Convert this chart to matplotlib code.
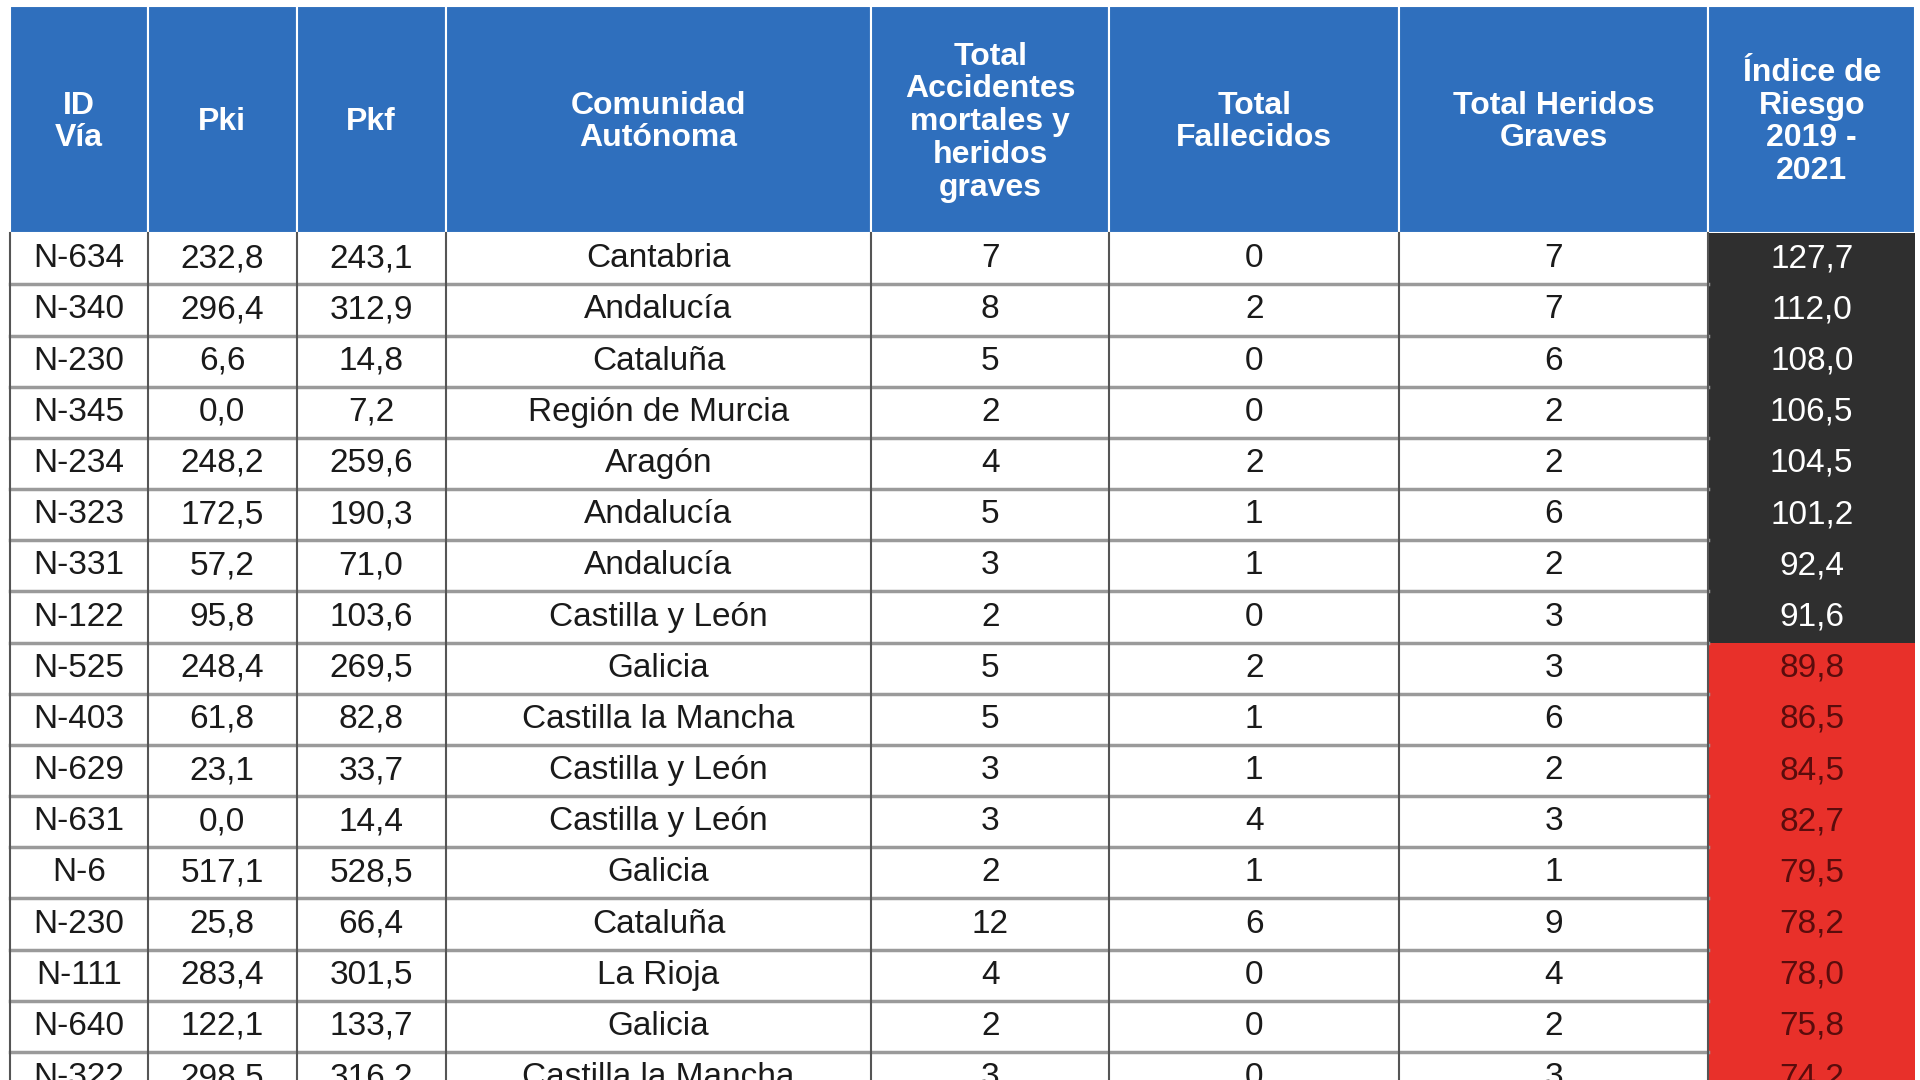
import matplotlib
matplotlib.use("Agg")
import matplotlib.pyplot as plt
from matplotlib.patches import Rectangle

headers = ["ID\nVía", "Pki", "Pkf", "Comunidad\nAutónoma",
           "Total\nAccidentes\nmortales y\nheridos\ngraves",
           "Total\nFallecidos", "Total Heridos\nGraves",
           "Índice de\nRiesgo\n2019 -\n2021"]
ids = ["N-634","N-340","N-230","N-345","N-234","N-323","N-331","N-122","N-525","N-403",
       "N-629","N-631","N-6","N-230","N-111","N-640","N-322"]
pki = ["232,8","296,4","6,6","0,0","248,2","172,5","57,2","95,8","248,4","61,8",
       "23,1","0,0","517,1","25,8","283,4","122,1","298,5"]
pkf = ["243,1","312,9","14,8","7,2","259,6","190,3","71,0","103,6","269,5","82,8",
       "33,7","14,4","528,5","66,4","301,5","133,7","316,2"]
comunidad = ["Cantabria","Andalucía","Cataluña","Región de Murcia","Aragón","Andalucía",
             "Andalucía","Castilla y León","Galicia","Castilla la Mancha","Castilla y León",
             "Castilla y León","Galicia","Cataluña","La Rioja","Galicia","Castilla la Mancha"]
accidentes = [7,8,5,2,4,5,3,2,5,5,3,3,2,12,4,2,3]
fallecidos = [0,2,0,0,2,1,1,0,2,1,1,4,1,6,0,0,0]
heridos = [7,7,6,2,2,6,2,3,3,6,2,3,1,9,4,2,3]
indice = [127.7,112.0,108.0,106.5,104.5,101.2,92.4,91.6,89.8,86.5,84.5,82.7,79.5,78.2,78.0,75.8,74.2]

W, H = 1560, 880
cols = [8, 120, 241, 362, 708, 901, 1137, 1388, 1556]
head_top, head_bot = 5, 190
row_h = 41.7

fig = plt.figure(figsize=(19.2, 10.8), dpi=100)
ax = fig.add_axes([0, 0, 1, 1])
ax.set_xlim(0, W); ax.set_ylim(H, 0); ax.axis("off")
plt.rcParams['font.family'] = ['Liberation Sans', 'DejaVu Sans']

blue = "#2f6fbd"
for i in range(8):
    x0, x1 = cols[i], cols[i+1]
    ax.add_patch(Rectangle((x0, head_top), x1-x0, head_bot-head_top, fc=blue, ec="white", lw=1.5))
    ax.text((x0+x1)/2, (head_top+head_bot)/2 + 2, headers[i], ha="center", va="center",
            color="white", fontsize=23, fontweight="bold", linespacing=1.12)

for r in range(len(ids)):
    y0 = head_bot + r*row_h
    vals = [ids[r], pki[r], pkf[r], comunidad[r], str(accidentes[r]), str(fallecidos[r]),
            str(heridos[r]), f"{indice[r]:.1f}".replace(".", ",")]
    for c in range(8):
        x0, x1 = cols[c], cols[c+1]
        if c == 7:
            fc = "#2f2f2f" if indice[r] >= 90 else "#e8302a"
            tc = "white" if indice[r] >= 90 else "#5a0c0c"
        else:
            fc, tc = "white", "#1a1a1a"
        ax.add_patch(Rectangle((x0, y0), x1-x0, row_h, fc=fc, ec="none"))
        ax.text((x0+x1)/2, y0+row_h/2, vals[c], ha="center", va="center", color=tc,
                fontsize=24, clip_on=True)
    ax.plot([cols[0], cols[7]], [y0+row_h, y0+row_h], color="#9a9a9a", lw=2.5)
for x in cols[:8]:
    ax.plot([x, x], [head_bot, H], color="#555555", lw=1.5)

fig.savefig("out.png", dpi=100)
